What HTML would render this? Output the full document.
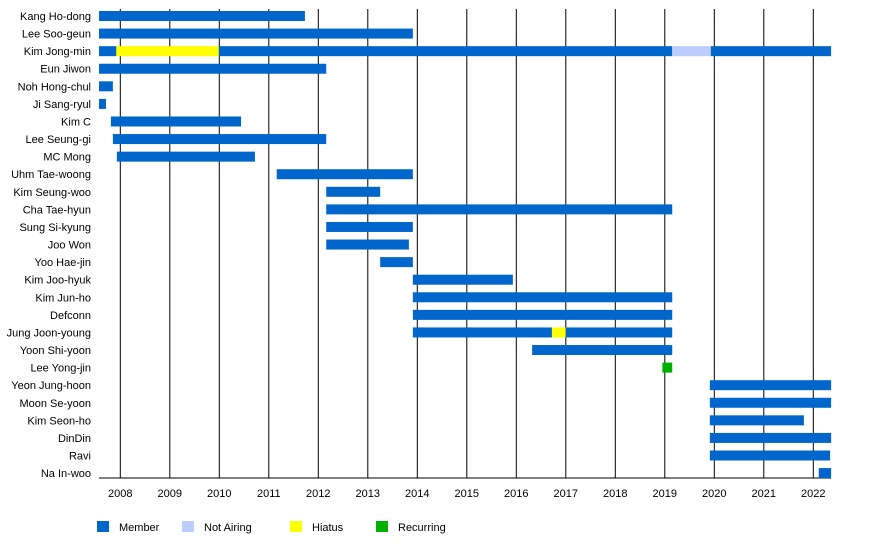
<!DOCTYPE html>
<html><head><meta charset="utf-8"><style>
html,body{margin:0;padding:0;background:#fff;}
svg text{font-family:"Liberation Sans",sans-serif;font-size:11px;fill:#000;}
</style></head><body>
<svg id="chart" width="880" height="543" xmlns="http://www.w3.org/2000/svg"></svg>
<script>
const members = ["Kang Ho-dong","Lee Soo-geun","Kim Jong-min","Eun Jiwon","Noh Hong-chul","Ji Sang-ryul","Kim C","Lee Seung-gi","MC Mong","Uhm Tae-woong","Kim Seung-woo","Cha Tae-hyun","Sung Si-kyung","Joo Won","Yoo Hae-jin","Kim Joo-hyuk","Kim Jun-ho","Defconn","Jung Joon-young","Yoon Shi-yoon","Lee Yong-jin","Yeon Jung-hoon","Moon Se-yoon","Kim Seon-ho","DinDin","Ravi","Na In-woo"];
// segments: [rowIndex, start, end, type]
const segRow   = [0,1,2,2,2,2,2,3,4,5,6,7,8,9,10,11,12,13,14,15,16,17,18,18,18,19,20,21,22,23,24,25,26];
const segStart = [2007.57,2007.57,2007.57,2007.92,2009.99,2019.15,2019.93,2007.57,2007.57,2007.57,2007.81,2007.85,2007.93,2011.16,2012.16,2012.16,2012.16,2012.16,2013.25,2013.91,2013.91,2013.91,2013.91,2016.72,2017.0,2016.32,2018.95,2019.91,2019.91,2019.91,2019.91,2019.91,2022.11];
const segEnd   = [2011.73,2013.91,2007.92,2009.99,2019.15,2019.93,2022.36,2012.16,2007.85,2007.71,2010.44,2012.16,2010.72,2013.91,2013.25,2019.15,2013.91,2013.83,2013.91,2015.93,2019.15,2019.15,2016.72,2017.0,2019.15,2019.15,2019.15,2022.36,2022.36,2021.81,2022.36,2022.34,2022.36];
const segType  = ["m","m","m","h","m","n","m","m","m","m","m","m","m","m","m","m","m","m","m","m","m","m","m","h","m","m","r","m","m","m","m","m","m"];
const years = [2008,2009,2010,2011,2012,2013,2014,2015,2016,2017,2018,2019,2020,2021,2022];
const legendLabels = ["Member","Not Airing","Hiatus","Recurring"];
const legendTypes = ["m","n","h","r"];

const colors = {m:"#0066cc",n:"#bbccff",h:"#ffff00",r:"#00b000"};
const x = v => 120.3 + (v-2008)*49.5;
const y = i => 16 + i*17.58;
const svg = document.getElementById('chart');
const NS = "http://www.w3.org/2000/svg";
function mk(tag, attrs){const e=document.createElementNS(NS,tag);for(const k in attrs)e.setAttribute(k,attrs[k]);svg.appendChild(e);return e;}

years.forEach(yr=>{
  const l=mk('line',{x1:x(yr),x2:x(yr),y1:9,y2:478,stroke:'#000','stroke-width':1});
  
  
  const t=mk('text',{x:x(yr),y:497,'text-anchor':'middle'});
  t.textContent=yr;
  
  
});
const ax=mk('line',{x1:99,x2:831,y1:478,y2:478,stroke:'#000','stroke-width':1});



members.forEach((m,i)=>{
  const t=mk('text',{x:91,y:y(i)+4,'text-anchor':'end'});
  t.textContent=m;
  
  
});
segRow.forEach((r,k)=>{
  const b=mk('rect',{x:x(segStart[k]),y:y(r)-5,width:Math.max(0,x(segEnd[k])-x(segStart[k])),height:10,fill:colors[segType[k]]});
  
  
});
const lx=[97,182,290,376];
legendLabels.forEach((lab,i)=>{
  const r=mk('rect',{x:lx[i],y:521,width:12,height:11,fill:colors[legendTypes[i]]});
  
  
  const t=mk('text',{x:lx[i]+22,y:531});
  t.textContent=lab;
  
  
});
</script>
</body></html>
